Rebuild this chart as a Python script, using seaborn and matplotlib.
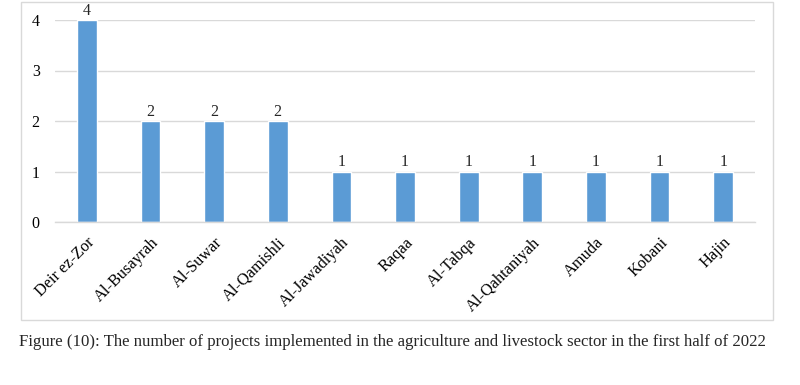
import matplotlib
matplotlib.use("Agg")
import matplotlib.pyplot as plt
from matplotlib.patches import Rectangle
import seaborn as sns
import pandas as pd

regions = [
    'Deir ez-Zor', 'Al-Busayrah', 'Al-Suwar', 'Al-Qamishli', 'Al-Jawadiyah',
    'Raqaa', 'Al-Tabqa', 'Al-Qahtaniyah', 'Amuda', 'Kobani', 'Hajin'
]
projects = [4, 2, 2, 2, 1, 1, 1, 1, 1, 1, 1]
yticks = [0, 1, 2, 3, 4]
caption = ("Figure (10): The number of projects implemented in the agriculture "
           "and livestock sector in the first half of 2022")

df = pd.DataFrame({'region': regions, 'projects': projects})

sns.set_theme(style="white")
plt.rcParams['font.family'] = ['Liberation Serif', 'DejaVu Serif']

fig = plt.figure(figsize=(8, 3.85), dpi=100)
ax = fig.add_axes([55 / 800, 1 - 222 / 385, 700 / 800, 202 / 385])

sns.barplot(data=df, x='region', y='projects', color='#5B9BD5',
            width=0.31, saturation=1, ax=ax)

ax.bar_label(ax.containers[0], fontsize=11.5, padding=1, clip_on=False)

ax.set_ylim(0, 4)
ax.set_yticks(yticks)
ax.set_xlim(-0.5, len(regions) - 0.5)
ax.yaxis.grid(True, color='#D9D9D9', linewidth=1)
ax.set_axisbelow(True)
for side in ['top', 'left', 'right']:
    ax.spines[side].set_visible(False)
ax.spines['bottom'].set_color('#D9D9D9')
ax.spines['bottom'].set_linewidth(1)
ax.tick_params(axis='both', length=0, labelsize=11.5, colors='#000000')
ax.tick_params(axis='y', pad=11)
ax.tick_params(axis='x', labelsize=11.8, pad=9)
ax.set_xlabel('')
ax.set_ylabel('')
plt.setp(ax.get_xticklabels(), rotation=45, ha='right', rotation_mode='anchor')

# outer chart frame
fig.patches.append(Rectangle((21 / 800, 1 - 320 / 385), 752 / 800, 318 / 385,
                             transform=fig.transFigure, fill=False,
                             edgecolor='#D9D9D9', linewidth=1))

fig.text(392 / 800, 1 - 342 / 385, caption, ha='center', va='center',
         fontsize=12.1)

fig.savefig('out.png', dpi=100)
